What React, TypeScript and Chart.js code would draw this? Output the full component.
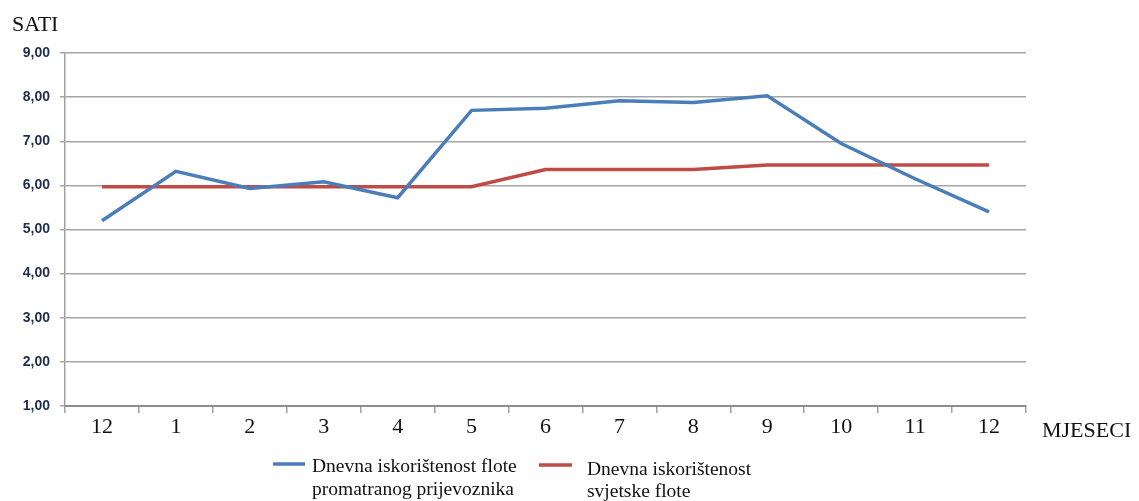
import React, { useEffect, useRef } from "react";
import { Chart, registerables } from "chart.js";

Chart.register(...registerables);

const categories = ["12", "1", "2", "3", "4", "5", "6", "7", "8", "9", "10", "11", "12"];
const carrierHours = [5.2, 6.32, 5.93, 6.08, 5.72, 7.7, 7.75, 7.92, 7.88, 8.03, 6.95, 6.15, 5.4];
const worldHours = [5.97, 5.97, 5.97, 5.97, 5.97, 5.97, 6.36, 6.36, 6.36, 6.46, 6.46, 6.46, 6.46];
const carrierLabel = ["Dnevna iskorištenost flote", "promatranog prijevoznika"];
const worldLabel = ["Dnevna iskorištenost", "svjetske flote"];
const yTitle = "SATI";
const xTitle = "MJESECI";

const BLUE = "#4a7ebb";
const RED = "#be4b48";
const SERIF = "'Liberation Serif', 'Times New Roman', serif";

const decorPlugin = {
  id: "decor",
  afterDraw(chart: any) {
    const ctx = chart.ctx;
    ctx.save();
    ctx.fillStyle = "#111111";
    ctx.textBaseline = "alphabetic";
    ctx.font = `22px ${SERIF}`;
    ctx.textAlign = "left";
    ctx.fillText(yTitle, 12, 31);
    ctx.fillText(xTitle, 1042, 437);

    // legend
    ctx.lineWidth = 3.5;
    ctx.strokeStyle = BLUE;
    ctx.beginPath();
    ctx.moveTo(273, 464);
    ctx.lineTo(305, 464);
    ctx.stroke();
    ctx.strokeStyle = RED;
    ctx.beginPath();
    ctx.moveTo(539, 465);
    ctx.lineTo(572, 465);
    ctx.stroke();

    ctx.font = `19.5px ${SERIF}`;
    ctx.fillText(carrierLabel[0], 312, 472);
    ctx.fillText(carrierLabel[1], 312, 495);
    ctx.fillText(worldLabel[0], 587, 475);
    ctx.fillText(worldLabel[1], 587, 497);
    ctx.restore();
  },
};

export default function App() {
  const ref = useRef<HTMLCanvasElement | null>(null);

  useEffect(() => {
    if (!ref.current) return;
    const chart = new Chart(ref.current, {
      type: "line",
      data: {
        labels: categories,
        datasets: [
          {
            label: carrierLabel.join(" "),
            data: carrierHours,
            borderColor: BLUE,
            backgroundColor: BLUE,
            borderWidth: 3.5,
            pointRadius: 0,
            tension: 0,
          },
          {
            label: worldLabel.join(" "),
            data: worldHours,
            borderColor: RED,
            backgroundColor: RED,
            borderWidth: 3.5,
            pointRadius: 0,
            tension: 0,
          },
        ],
      },
      options: {
        animation: false,
        responsive: false,
        layout: { padding: { left: 0, top: 53, right: 113, bottom: 55 } },
        plugins: {
          legend: { display: false },
          tooltip: { enabled: false },
        },
        scales: {
          x: {
            offset: true,
            grid: {
              offset: true,
              drawOnChartArea: false,
              drawTicks: true,
              tickLength: 7,
              color: "#a0a0a0",
              lineWidth: 1.5,
            },
            border: { display: true, color: "#8c8c8c", width: 2 },
            ticks: {
              color: "#111111",
              font: { family: SERIF, size: 22 },
              padding: 1,
              maxRotation: 0,
              autoSkip: false,
            },
            afterFit(scale: any) {
              scale.height = 40;
            },
          },
          y: {
            min: 1,
            max: 9,
            grid: {
              color: "#a6a6a6",
              lineWidth: 1.5,
              drawTicks: true,
              tickLength: 5,
            },
            border: { display: true, color: "#a0a0a0", width: 1.5 },
            ticks: {
              stepSize: 1,
              color: "#1f2d4d",
              padding: 10,
              font: { family: "'Liberation Sans', Arial, sans-serif", size: 14, weight: "bold" },
              callback: (v: any) => Number(v).toFixed(2).replace(".", ","),
            },
            afterFit(scale: any) {
              scale.width = 65;
            },
          },
        },
      },
      plugins: [decorPlugin],
    });
    return () => chart.destroy();
  }, []);

  return (
    <div style={{ position: "absolute", left: 0, top: 0, width: 1139, height: 501, background: "#ffffff" }}>
      <canvas ref={ref} width={1139} height={501} />
    </div>
  );
}
